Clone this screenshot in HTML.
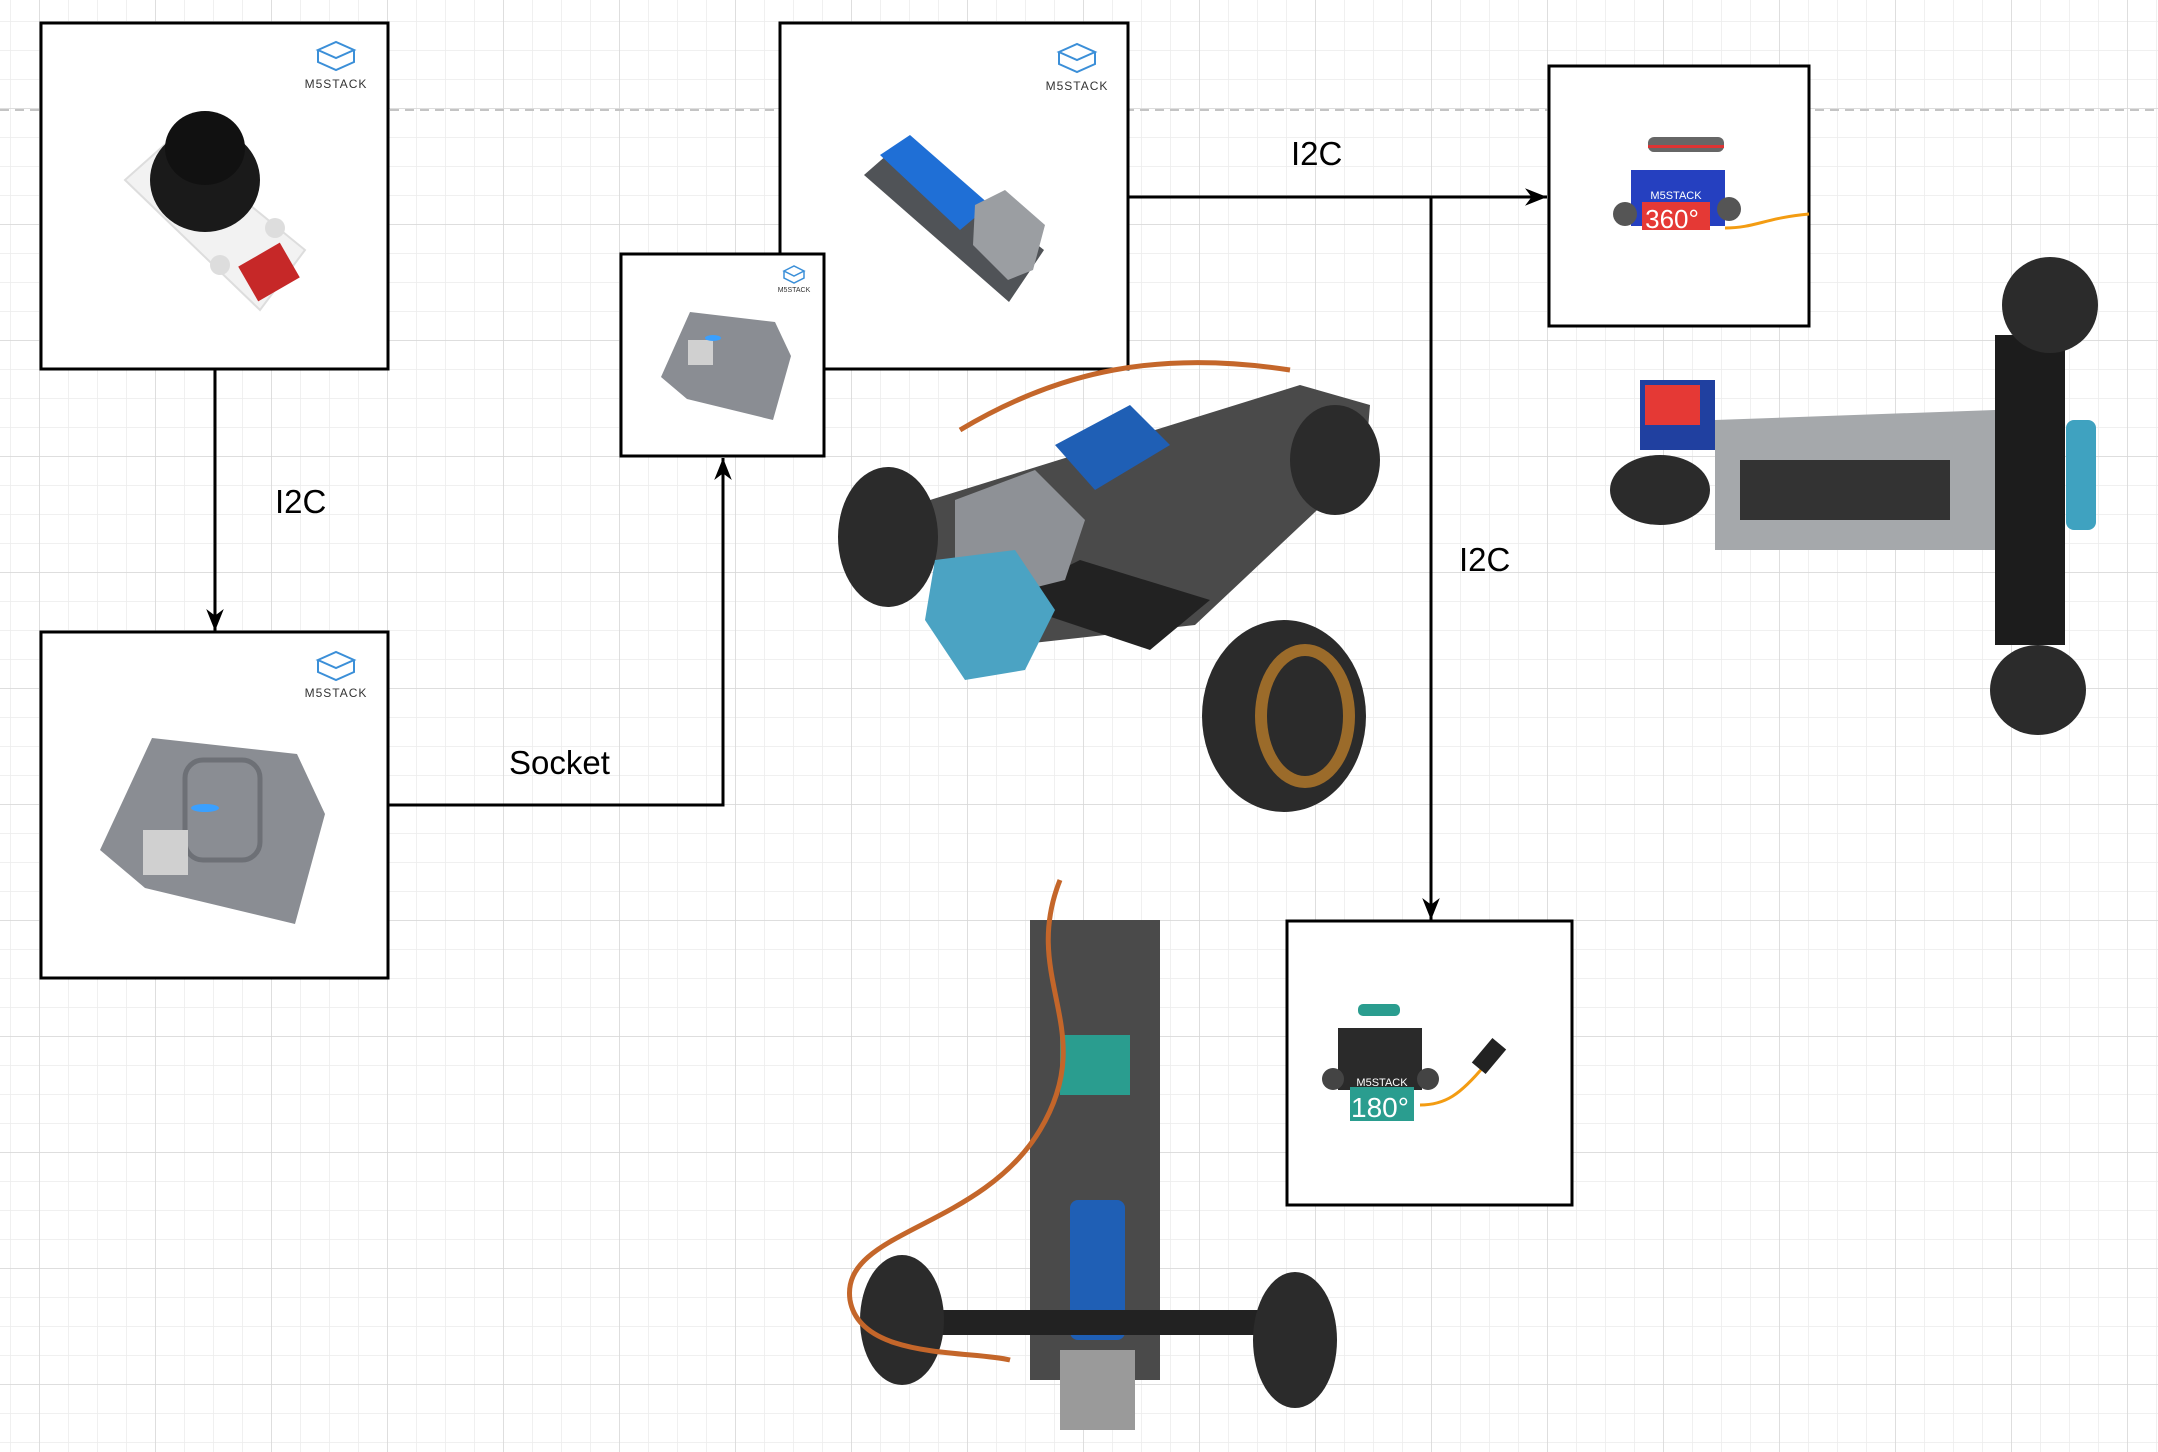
<!DOCTYPE html>
<html><head><meta charset="utf-8"><style>
html,body{margin:0;padding:0;background:#fff}
svg{display:block}
text{font-family:"Liberation Sans",sans-serif}
</style></head><body>
<svg width="2158" height="1452" viewBox="0 0 2158 1452" xmlns="http://www.w3.org/2000/svg">
<defs>
<pattern id="minor" width="29" height="29" patternUnits="userSpaceOnUse" x="10" y="21">
<path d="M0 0H29M0 0V29" fill="none" stroke="#ececec" stroke-width="1.5"/>
</pattern>
<pattern id="major" width="116" height="116" patternUnits="userSpaceOnUse" x="39" y="108">
<path d="M0 0H116M0 0V116" fill="none" stroke="#d6d6d6" stroke-width="1.5"/>
</pattern>
<marker id="arr" viewBox="0 0 10 10" refX="10" refY="5" markerWidth="22" markerHeight="22" orient="auto-start-reverse" markerUnits="userSpaceOnUse">
<path d="M0 1L10 5L0 9L3 5Z" fill="#000"/>
</marker>
</defs>
<rect width="2158" height="1452" fill="url(#minor)"/>
<rect width="2158" height="1452" fill="url(#major)"/>
<line x1="0" y1="110" x2="2158" y2="110" stroke="#c4c4c4" stroke-width="2" stroke-dasharray="9,6"/>

<g stroke="#000" stroke-width="3" fill="none">
<path d="M215 370V631" marker-end="url(#arr)"/>
<path d="M389 805H723V458" marker-end="url(#arr)"/>
<path d="M1128 197H1547" marker-end="url(#arr)"/>
<path d="M1431 197V920" marker-end="url(#arr)"/>
</g>
<g font-size="33" fill="#000">
<text x="275" y="513">I2C</text>
<text x="509" y="774">Socket</text>
<text x="1291" y="165">I2C</text>
<text x="1459" y="571">I2C</text>
</g>

<g>
<rect x="41" y="23" width="347" height="346" fill="#fff" stroke="#000" stroke-width="3"/>
<g>
<path d="M318 50l18-8 18 8-18 8z M318 50v12l18 8 18-8V50" fill="none" stroke="#3b8fd8" stroke-width="2"/>
<text x="336" y="88" font-size="12" text-anchor="middle" fill="#333" letter-spacing="1">M5STACK</text>
</g>
<g>
<path d="M125 180l45-40 135 110-45 60z" fill="#f2f2f2" stroke="#ddd" stroke-width="2"/>
<rect x="245" y="252" width="48" height="40" fill="#c62828" transform="rotate(-30 269 272)"/>
<circle cx="220" cy="265" r="10" fill="#ddd"/><circle cx="275" cy="228" r="10" fill="#ddd"/>
<ellipse cx="205" cy="180" rx="55" ry="52" fill="#1a1a1a"/>
<ellipse cx="205" cy="148" rx="40" ry="37" fill="#111"/>
</g>
</g>

<g>
<rect x="41" y="632" width="347" height="346" fill="#fff" stroke="#000" stroke-width="3"/>
<g>
<path d="M318 660l18-8 18 8-18 8z M318 660v12l18 8 18-8V660" fill="none" stroke="#3b8fd8" stroke-width="2"/>
<text x="336" y="697" font-size="12" text-anchor="middle" fill="#333" letter-spacing="1">M5STACK</text>
</g>
<g>
<path d="M152 738l145 16 28 60-30 110-150-36-45-38z" fill="#8a8d93"/>
<rect x="185" y="760" width="75" height="100" rx="18" fill="none" stroke="#6d7076" stroke-width="5"/>
<ellipse cx="205" cy="808" rx="14" ry="4" fill="#3aa0ff"/>
<rect x="143" y="830" width="45" height="45" fill="#d0d0d0"/>
</g>
</g>

<g>
<rect x="780" y="23" width="348" height="346" fill="#fff" stroke="#000" stroke-width="3"/>
<g>
<path d="M1059 52l18-8 18 8-18 8z M1059 52v12l18 8 18-8V52" fill="none" stroke="#3b8fd8" stroke-width="2"/>
<text x="1077" y="90" font-size="12" text-anchor="middle" fill="#333" letter-spacing="1">M5STACK</text>
</g>
<g>
<path d="M864 175l40-35 140 110-35 52z" fill="#505357"/>
<path d="M880 155l30-20 80 70-30 25z" fill="#1f6fd6"/>
<path d="M975 205l30-15 40 35-12 45-25 10-35-35z" fill="#9b9ea2"/>
</g>
</g>

<g>
<rect x="621" y="254" width="203" height="202" fill="#fff" stroke="#000" stroke-width="3"/>
<g>
<path d="M784 271l10-5 10 5-10 5z M784 271v7l10 5 10-5v-7" fill="none" stroke="#3b8fd8" stroke-width="1.5"/>
<text x="794" y="292" font-size="7" text-anchor="middle" fill="#333">M5STACK</text>
</g>
<g>
<path d="M690 312l85 10 16 34-18 64-86-21-26-22z" fill="#8a8d93"/>
<rect x="688" y="340" width="25" height="25" fill="#d0d0d0"/>
<ellipse cx="713" cy="338" rx="8" ry="3" fill="#3aa0ff"/>
</g>
</g>

<g>
<rect x="1549" y="66" width="260" height="260" fill="#fff" stroke="#000" stroke-width="3"/>
<g>
<rect x="1648" y="137" width="76" height="15" rx="6" fill="#666"/>
<rect x="1648" y="145" width="76" height="3" fill="#d33"/>
<rect x="1631" y="170" width="94" height="56" fill="#2540c0"/>
<circle cx="1625" cy="214" r="12" fill="#555"/><circle cx="1729" cy="209" r="12" fill="#555"/>
<rect x="1642" y="202" width="68" height="28" fill="#e53935"/>
<text x="1676" y="199" font-size="11" text-anchor="middle" fill="#fff">M5STACK</text>
<text x="1672" y="228" font-size="26" text-anchor="middle" fill="#fff">360°</text>
<path d="M1725 228c30 0 40-10 84-14" stroke="#f39c12" stroke-width="3" fill="none"/>
</g>
</g>

<g>
<rect x="1287" y="921" width="285" height="284" fill="#fff" stroke="#000" stroke-width="3"/>
<g>
<rect x="1358" y="1004" width="42" height="12" rx="5" fill="#2a9d8f"/>
<rect x="1338" y="1028" width="84" height="62" fill="#2a2a2a"/>
<circle cx="1333" cy="1079" r="11" fill="#444"/><circle cx="1428" cy="1079" r="11" fill="#444"/>
<rect x="1350" y="1087" width="64" height="34" fill="#2a9d8f"/>
<text x="1382" y="1086" font-size="11" text-anchor="middle" fill="#fff">M5STACK</text>
<text x="1380" y="1117" font-size="28" text-anchor="middle" fill="#fff">180°</text>
<path d="M1420 1105c25 0 40-10 65-40" stroke="#f39c12" stroke-width="3" fill="none"/>
<rect x="1480" y="1040" width="18" height="32" fill="#222" transform="rotate(40 1489 1056)"/>
</g>
</g>

<g>
<path d="M930 500l370-115 70 20-5 60-170 160-180 20-80-70z" fill="#4a4a4a"/>
<path d="M1000 600l150 50 60-50-130-40z" fill="#222"/>
<ellipse cx="888" cy="537" rx="50" ry="70" fill="#2b2b2b"/>
<ellipse cx="1335" cy="460" rx="45" ry="55" fill="#2b2b2b"/>
<ellipse cx="1284" cy="716" rx="82" ry="96" fill="#2b2b2b"/>
<ellipse cx="1305" cy="716" rx="50" ry="72" fill="#9b6b2a"/>
<ellipse cx="1305" cy="716" rx="38" ry="60" fill="#2b2b2b"/>
<path d="M1055 445l75-40 40 40-75 45z" fill="#1f5fb5"/>
<path d="M955 500l80-30 50 50-20 60-80 20-30-30z" fill="#8e9196"/>
<path d="M935 560l80-10 40 60-30 60-60 10-40-60z" fill="#4ba3c3"/>
<path d="M960 430c100-60 200-80 330-60" stroke="#c4662a" stroke-width="5" fill="none"/>
</g>

<g>
<path d="M1715 420l280-10 0 140-280 0z" fill="#a5a8ab"/>
<rect x="1740" y="460" width="210" height="60" fill="#333"/>
<rect x="1995" y="335" width="70" height="310" fill="#1c1c1c"/>
<rect x="2066" y="420" width="30" height="110" rx="8" fill="#3fa2c0"/>
<ellipse cx="2050" cy="305" rx="48" ry="48" fill="#2b2b2b"/>
<ellipse cx="2038" cy="690" rx="48" ry="45" fill="#2b2b2b"/>
<ellipse cx="1660" cy="490" rx="50" ry="35" fill="#2b2b2b"/>
<rect x="1640" y="380" width="75" height="70" fill="#2040a0"/>
<rect x="1645" y="385" width="55" height="40" fill="#e53935"/>
</g>

<g>
<rect x="1030" y="920" width="130" height="460" fill="#4a4a4a"/>
<rect x="1060" y="1035" width="70" height="60" fill="#2a9d8f"/>
<rect x="1070" y="1200" width="55" height="140" rx="8" fill="#1f5fb5"/>
<rect x="940" y="1310" width="350" height="25" fill="#222"/>
<ellipse cx="902" cy="1320" rx="42" ry="65" fill="#2b2b2b"/>
<ellipse cx="1295" cy="1340" rx="42" ry="68" fill="#2b2b2b"/>
<rect x="1060" y="1350" width="75" height="80" fill="#9a9a9a"/>
<path d="M1060 880c-40 100 40 150-20 250s-200 100-190 170c10 60 120 50 160 60" stroke="#c4662a" stroke-width="5" fill="none"/>
</g>
</svg>
</body></html>
